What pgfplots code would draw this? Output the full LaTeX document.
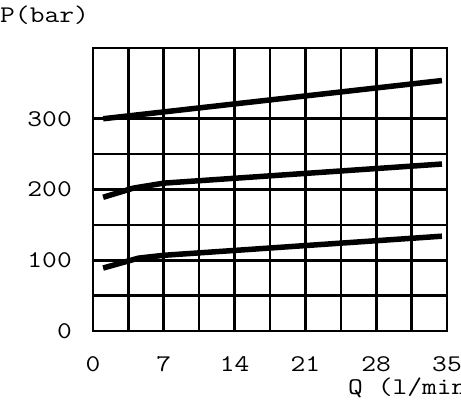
\documentclass[border=0pt]{standalone}
\usepackage{fontspec}
\newfontfamily\labfont{Latin Modern Mono}[FakeStretch=1.2]
\usepackage{pgfplots}
\pgfplotsset{compat=1.18}
\newcommand{\lab}{\labfont\fontsize{24}{24}\selectfont}
\begin{document}
\begin{tikzpicture}
\useasboundingbox (-93bp,-69bp) rectangle (368bp,331bp);
\clip (-93bp,-69bp) rectangle (368bp,331bp);
\begin{axis}[
  at={(0,0)}, anchor=south west,
  scale only axis, width=354bp, height=283bp,
  xmin=0, xmax=35, ymin=0, ymax=400,
  xtick={0,7,14,21,28,35}, ytick={0,100,200,300},
  minor x tick num=1, minor y tick num=1,
  grid=both,
  major grid style={black, line width=2.6bp},
  minor grid style={black, line width=2.6bp},
  axis line style={black, line width=2.6bp},
  major tick length=0pt, minor tick length=0pt,
  tick style={draw=none},
  /pgf/number format/assume math mode=true,
  ticklabel style={font=\lab, inner sep=0pt},
  xticklabel style={yshift=-25bp},
  yticklabel style={xshift=-21bp},
]
\addplot[black, line width=5.5bp, line cap=butt] coordinates {(1,300) (34.5,354)};
\addplot[black, line width=5.5bp, line cap=butt] coordinates {(1,189) (4,202) (7,209) (34.5,236)};
\addplot[black, line width=5.5bp, line cap=butt] coordinates {(1,89) (4.5,103) (7,107) (34.5,134)};
\end{axis}
\node[anchor=west, inner sep=0pt, font=\lab] at (-93bp,316bp) {P(bar)};
\node[anchor=west, inner sep=0pt, font=\lab] at (255bp,-57bp) {Q (l/min)};
\end{tikzpicture}
\end{document}
